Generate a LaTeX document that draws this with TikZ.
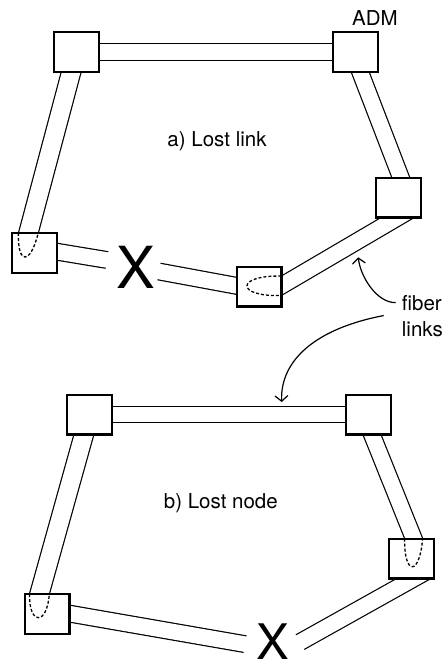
\documentclass[tikz,border=0pt]{standalone}
\usepackage{fontspec}
\setmainfont{TeX Gyre Heros}
\usepackage{tikz}
\usetikzlibrary{arrows.meta,calc}
\pgfdeclarelayer{background}
\pgfsetlayers{background,main}
\tikzset{
  adm/.style={draw,line width=2.2pt,fill=white,minimum width=44.8pt,minimum height=39.8pt,inner sep=0pt},
  % two walls of a fibre, the white core runs a bit past the ends
  fiber/.style={draw,line width=#1+2.4pt,
    postaction={draw,white,line width=#1,shorten <=-1pt,shorten >=-1pt}},
  fiber/.default=15.5pt,
  loopback/.style={draw,line width=1.3pt,dash pattern=on 3pt off 2pt},
  lbl/.style={font=\fontsize{20.5}{24}\selectfont,inner sep=6pt},
  cut/.style={inner sep=0pt},
  callout/.style={line width=1.2pt,-{Straight Barb[length=5.5pt,width=13pt]}}
}

\begin{document}
\begin{tikzpicture}[x=1pt,y=-1pt]
  \useasboundingbox (0,0) rectangle (443,664);
  % a) ring with a cut link
  \node[adm] (a1) at (76.5,52) {};
  \node[adm] (a2) at (355.5,52) {};
  \node[adm] (a3) at (398.5,197.5) {};
  \node[adm] (a4) at (259,286.5) {};
  \node[adm] (a5) at (34.5,253) {};
  \node[cut,font=\fontsize{58}{58}\selectfont] (xa) at (136.2,267.5) {X};
  \node[lbl,anchor=base] (admlbl) at (375,25) {ADM};
  \node[lbl,anchor=base] (capa) at (217,146) {a) Lost link};
  \begin{pgfonlayer}{background}
    \draw[fiber] (a1.center) -- (a2.center);
    \draw[fiber=18pt] (a1.center) -- ($(a5.center)+(-9.3,-8)$);
    \draw[fiber] ($(a2.center)+(-3,0)$) -- ($(a3.center)+(10,0)$);
    \draw[fiber] ($(a3.center)+(13.5,11.6)$) -- ($(a4.center)+(9,7.1)$);
    \draw[fiber] ($(a5.center)+(0,-5)$) -- ($(xa.center)+(-29.2,-7.5)$);
    \draw[fiber] ($(xa.center)+(22.8,4)$) -- ($(a4.center)+(0,3.5)$);
  \end{pgfonlayer}
  % loop back in the two end nodes
  \draw[loopback] (18.4,233.1) .. controls (17.5,265.1) and (30.3,265.1) .. (38.2,233.1);
  \draw[loopback] (281.4,276.1) .. controls (235.5,275) and (235.5,297) .. (281.4,295.5);

  % b) ring with a lost node
  \node[adm] (b1) at (89.5,414.5) {};
  \node[adm] (b2) at (368.5,414.5) {};
  \node[adm] (b3) at (411.5,558.5) {};
  \node[adm] (b4) at (47,614) {};
  \node[cut,anchor=base,font=\fontsize{49}{49}\selectfont] (xb) at (272.5,659.5) {X};
  \node[lbl,anchor=base] (capb) at (220.8,508.3) {b) Lost node};
  \begin{pgfonlayer}{background}
    \draw[fiber] (b1.center) -- (b2.center);
    \draw[fiber=18pt] (b1.center) -- ($(b4.center)+(-10.65,-9)$);
    \draw[fiber] ($(b2.center)+(-4.6,0)$) -- ($(b3.center)+(10.2,0)$);
    \draw[fiber] ($(b3.center)+(17.5,11.5)$) -- ($(xb.center)+(27.5,0.5)$);
    \draw[fiber] ($(b4.center)+(0,-4.3)$) -- ($(xb.center)+(-27.5,2.5)$);
  \end{pgfonlayer}
  \draw[loopback] (29.5,594.1) .. controls (29,625.6) and (47,625.6) .. (49.3,594.1);
  \draw[loopback] (404.6,538.6) .. controls (404,576.1) and (419.7,576.1) .. (422.6,538.6);

  % callout
  \node[lbl,anchor=base west] (fib) at (395.7,310) {fiber};
  \node[lbl,anchor=base west] (lnk) at (395.7,336.7) {links};
  \coordinate (tipa) at (358.3,257.3);
  \coordinate (tipb) at (281.7,402);
  \draw[callout] (fib.west) .. controls +(-20,0) and +(1.7,17.7) .. (tipa);
  \draw[callout] ([xshift=-12pt]lnk.north west) .. controls +(-68,13) and +(-1.7,-41.7) .. (tipb);
\end{tikzpicture}
\end{document}
